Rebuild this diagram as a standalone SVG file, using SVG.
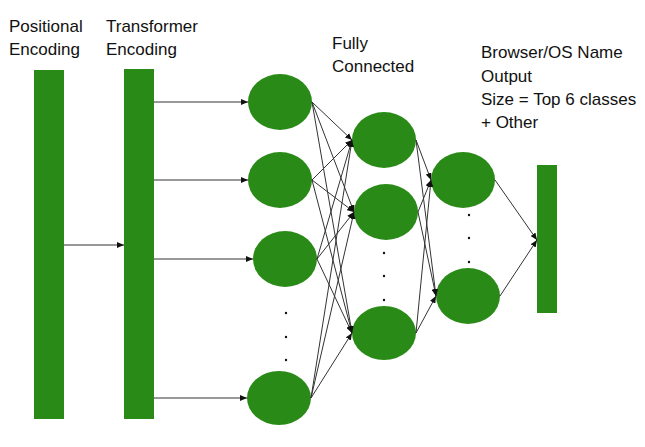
<svg xmlns="http://www.w3.org/2000/svg" width="645" height="447" viewBox="0 0 645 447">
<style>
.g{fill:#2a8a17}
.t{font-family:"Liberation Sans",Arial,sans-serif;font-size:17px;fill:#111}
.c line{stroke:#333;stroke-width:1;marker-end:url(#a)}
.d{fill:#111}
</style>
<defs>
<marker id="a" markerUnits="userSpaceOnUse" markerWidth="8" markerHeight="6" refX="7" refY="3" orient="auto">
<path d="M0,0 L7,3 L0,6 z" fill="#111"/>
</marker>
</defs>
<rect width="645" height="447" fill="#fff"/>
<g id="labels">
<text class="t" x="9" y="32">Positional</text>
<text class="t" x="9" y="55">Encoding</text>
<text class="t" x="106" y="32">Transformer</text>
<text class="t" x="106" y="55">Encoding</text>
<text class="t" x="332" y="49">Fully</text>
<text class="t" x="332" y="72">Connected</text>
<text class="t" x="481" y="58">Browser/OS Name</text>
<text class="t" x="481" y="82">Output</text>
<text class="t" x="481" y="105">Size = Top 6 classes</text>
<text class="t" x="481" y="128">+ Other</text>
</g>
<g id="positional"><rect class="g" x="34" y="70" width="30" height="349"/></g>
<g id="transformer"><rect class="g" x="124" y="69" width="30" height="350"/></g>
<g id="l1n1"><ellipse class="g" cx="280" cy="102" rx="32" ry="28"/></g>
<g id="l1n2"><ellipse class="g" cx="280" cy="180" rx="32" ry="28"/></g>
<g id="l1n3"><ellipse class="g" cx="285" cy="259" rx="32" ry="28"/></g>
<g id="l1n4"><ellipse class="g" cx="279" cy="398" rx="32" ry="27"/></g>
<g id="l1dots"><circle class="d" cx="286" cy="313" r="1.2"/><circle class="d" cx="286" cy="337" r="1.2"/><circle class="d" cx="286" cy="360" r="1.2"/></g>
<g id="l2n1"><ellipse class="g" cx="384" cy="140" rx="32" ry="28"/></g>
<g id="l2n2"><ellipse class="g" cx="386" cy="212" rx="32" ry="28"/></g>
<g id="l2n3"><ellipse class="g" cx="384" cy="333" rx="32" ry="27"/></g>
<g id="l2dots"><circle class="d" cx="384" cy="253" r="1.2"/><circle class="d" cx="384" cy="276" r="1.2"/><circle class="d" cx="384" cy="300" r="1.2"/></g>
<g id="l3n1"><ellipse class="g" cx="463" cy="180" rx="32" ry="28"/></g>
<g id="l3n2"><ellipse class="g" cx="468" cy="296" rx="32" ry="28"/></g>
<g id="l3dots"><circle class="d" cx="469" cy="215" r="1.2"/><circle class="d" cx="469" cy="238" r="1.2"/><circle class="d" cx="469" cy="262" r="1.2"/></g>
<g id="output"><rect class="g" x="537" y="165" width="20" height="148"/></g>
<g id="connectors" class="c">
<line x1="64" y1="245" x2="124" y2="245"/>
<line x1="154" y1="102" x2="248" y2="102"/>
<line x1="154" y1="180" x2="248" y2="180"/>
<line x1="154" y1="259" x2="253" y2="259"/>
<line x1="154" y1="398" x2="247" y2="398"/>
<line x1="312" y1="102" x2="352" y2="140"/>
<line x1="312" y1="102" x2="354" y2="212"/>
<line x1="312" y1="102" x2="352" y2="333"/>
<line x1="312" y1="180" x2="352" y2="140"/>
<line x1="312" y1="180" x2="354" y2="212"/>
<line x1="312" y1="180" x2="352" y2="333"/>
<line x1="317" y1="259" x2="352" y2="140"/>
<line x1="317" y1="259" x2="354" y2="212"/>
<line x1="317" y1="259" x2="352" y2="333"/>
<line x1="311" y1="398" x2="352" y2="140"/>
<line x1="311" y1="398" x2="354" y2="212"/>
<line x1="311" y1="398" x2="352" y2="333"/>
<line x1="416" y1="140" x2="431" y2="180"/>
<line x1="416" y1="140" x2="436" y2="296"/>
<line x1="418" y1="212" x2="431" y2="180"/>
<line x1="418" y1="212" x2="436" y2="296"/>
<line x1="416" y1="333" x2="431" y2="180"/>
<line x1="416" y1="333" x2="436" y2="296"/>
<line x1="495" y1="180" x2="537" y2="240"/>
<line x1="500" y1="296" x2="537" y2="240"/>
</g>
</svg>
